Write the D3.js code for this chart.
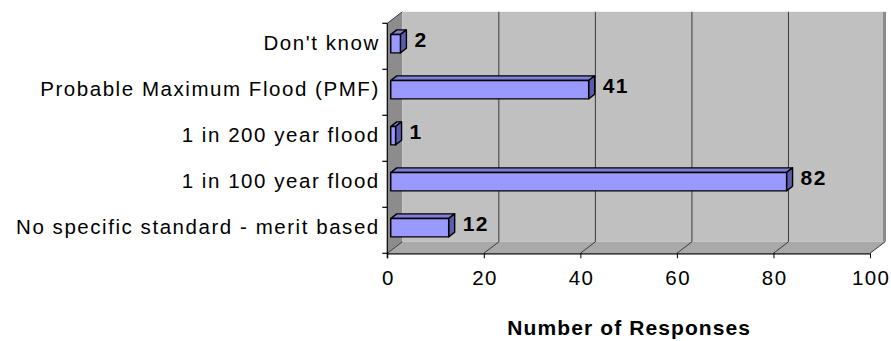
<!DOCTYPE html>
<html>
<head>
<meta charset="utf-8">
<script src="https://cdn.jsdelivr.net/npm/d3@7/dist/d3.min.js"></script>
<style>
  html, body { margin: 0; padding: 0; background: #ffffff; }
  svg { display: block; }
  text { font-family: "Liberation Sans", Arial, sans-serif; fill: #000; }
</style>
</head>
<body>
<svg id="chart" width="891" height="341"></svg>
<script>
// Survey: design flood standard used
const categories = [
  "Don't know",
  "Probable Maximum Flood (PMF)",
  "1 in 200 year flood",
  "1 in 100 year flood",
  "No specific standard - merit based"
];
const responses = [2, 41, 1, 82, 12];
const xTicks = [0, 20, 40, 60, 80, 100];
const xTitle = "Number of Responses";

const rows = categories.map((c, i) => ({ category: c, value: responses[i] }));

const svg = d3.select("#chart");

// Front plane of the plot box
const plotLeft = 387.3, plotRight = 870, plotTop = 23.3, plotBottom = 253.3;
// Oblique depth of the 3-D box (front plane -> back wall)
const depth = { dx: 15, dy: -11.5 };
// Bars sit between these fractions of the depth
const barFront = 0.23, barBack = 0.63;

const x = d3.scaleLinear().domain([0, 100]).range([plotLeft, plotRight]);
const y = d3.scaleBand().domain(categories).range([plotTop, plotBottom]).paddingInner(0).paddingOuter(0);

const pts = a => a.map(p => p.join(",")).join(" ");

// Side wall (left)
svg.append("polygon")
  .attr("points", pts([[plotLeft, plotTop], [plotLeft + depth.dx, plotTop + depth.dy],
                       [plotLeft + depth.dx, plotBottom + depth.dy], [plotLeft, plotBottom]]))
  .attr("fill", "#8c8c8c");

// Back wall
svg.append("polygon")
  .attr("points", pts([[plotLeft + depth.dx, plotTop + depth.dy], [plotRight + depth.dx - 2, plotTop + depth.dy],
                       [plotRight + depth.dx - 2, plotBottom + depth.dy], [plotLeft + depth.dx, plotBottom + depth.dy]]))
  .attr("fill", "#c0c0c0");
// Back wall right edge
svg.append("rect")
  .attr("x", plotRight + depth.dx - 2).attr("y", plotTop + depth.dy)
  .attr("width", 3).attr("height", plotBottom - plotTop)
  .attr("fill", "#8a8a8a");

// Floor
svg.append("polygon")
  .attr("points", pts([[plotLeft, plotBottom], [plotRight, plotBottom],
                       [plotRight + depth.dx, plotBottom + depth.dy], [plotLeft + depth.dx, plotBottom + depth.dy]]))
  .attr("fill", "#a9a9a9");

// Gridlines: vertical on the back wall, oblique across the floor
const grid = svg.append("g").attr("stroke", "#3a3a3a").attr("stroke-width", 1).attr("fill", "none");
grid.selectAll("line.wall").data(xTicks.filter(t => t > 0 && t < 100)).join("line")
  .attr("class", "wall")
  .attr("x1", d => x(d) + depth.dx).attr("x2", d => x(d) + depth.dx)
  .attr("y1", plotBottom + depth.dy).attr("y2", plotTop + depth.dy);
grid.selectAll("line.floor").data(xTicks).join("line")
  .attr("class", "floor")
  .attr("x1", d => x(d)).attr("y1", plotBottom)
  .attr("x2", d => x(d) + depth.dx).attr("y2", plotBottom + depth.dy);
// Top edge of the side wall
grid.append("line")
  .attr("x1", plotLeft).attr("y1", plotTop)
  .attr("x2", plotLeft + depth.dx).attr("y2", plotTop + depth.dy);

// Value axis
const xAxis = d3.axisBottom(x).tickValues(xTicks).tickSize(5).tickPadding(12).tickFormat(d3.format("d"));
const gx = svg.append("g").attr("transform", `translate(0,${plotBottom})`).call(xAxis);
gx.select(".domain").attr("stroke", "#000").attr("stroke-width", 1.2).attr("d", `M${plotLeft},0.5H${plotRight}`);
gx.selectAll(".tick line").attr("stroke", "#000");
gx.selectAll(".tick text")
  .attr("font-size", 20.5).attr("letter-spacing", "1.4px")
  .attr("dx", "0.7px");

// Category axis
const yAxis = d3.axisLeft(y).tickSize(0).tickPadding(9);
const gy = svg.append("g").attr("transform", `translate(${plotLeft},0)`).call(yAxis);
gy.select(".domain").attr("stroke", "#000").attr("stroke-width", 1.2)
  .attr("d", `M0,${plotTop}V${plotBottom + 5}`);
gy.selectAll(".tick text")
  .attr("font-size", 20.5).attr("letter-spacing", "1.55px")
  .attr("dy", null).attr("y", 4).attr("dx", "1.5px");
// Category separators
svg.append("g").selectAll("line").data(d3.range(categories.length + 1)).join("line")
  .attr("x1", plotLeft - 5).attr("x2", plotLeft)
  .attr("y1", i => plotTop + i * y.step()).attr("y2", i => plotTop + i * y.step())
  .attr("stroke", "#000").attr("stroke-width", 1.2);

// Bars drawn as oblique boxes
const barH = y.bandwidth() * 0.4;
const f = { dx: depth.dx * barFront, dy: depth.dy * barFront };
const b = { dx: depth.dx * (barBack - barFront), dy: depth.dy * (barBack - barFront) };

const bars = svg.append("g").attr("stroke", "#000").attr("stroke-width", 1.4).attr("stroke-linejoin", "round");
rows.forEach(d => {
  const x0 = x(0) + f.dx, x1 = x(d.value) + f.dx;
  const y0 = y(d.category) + y.bandwidth() / 2 - barH / 2 + f.dy, y1 = y0 + barH;
  const g = bars.append("g");
  g.append("polygon")
    .attr("points", pts([[x0, y0], [x1, y0], [x1 + b.dx, y0 + b.dy], [x0 + b.dx, y0 + b.dy]]))
    .attr("fill", "#7f7fd6");
  g.append("polygon")
    .attr("points", pts([[x1, y0], [x1 + b.dx, y0 + b.dy], [x1 + b.dx, y1 + b.dy], [x1, y1]]))
    .attr("fill", "#5c5cae");
  g.append("rect")
    .attr("x", x0).attr("y", y0).attr("width", x1 - x0).attr("height", barH)
    .attr("fill", "#9999ff");
});

// Value labels
svg.append("g").selectAll("text").data(rows).join("text")
  .attr("x", d => x(d.value) + f.dx + b.dx + 8)
  .attr("y", d => y(d.category) + y.bandwidth() / 2 + f.dy + b.dy + 7.8)
  .attr("font-size", 21).attr("font-weight", "bold").attr("letter-spacing", "1.4px")
  .text(d => d.value);

// Axis title
svg.append("text")
  .attr("x", (plotLeft + plotRight) / 2 + 0.6).attr("y", 335)
  .attr("text-anchor", "middle")
  .attr("font-size", 21).attr("font-weight", "bold").attr("letter-spacing", "1.1px")
  .text(xTitle);
</script>
</body>
</html>
